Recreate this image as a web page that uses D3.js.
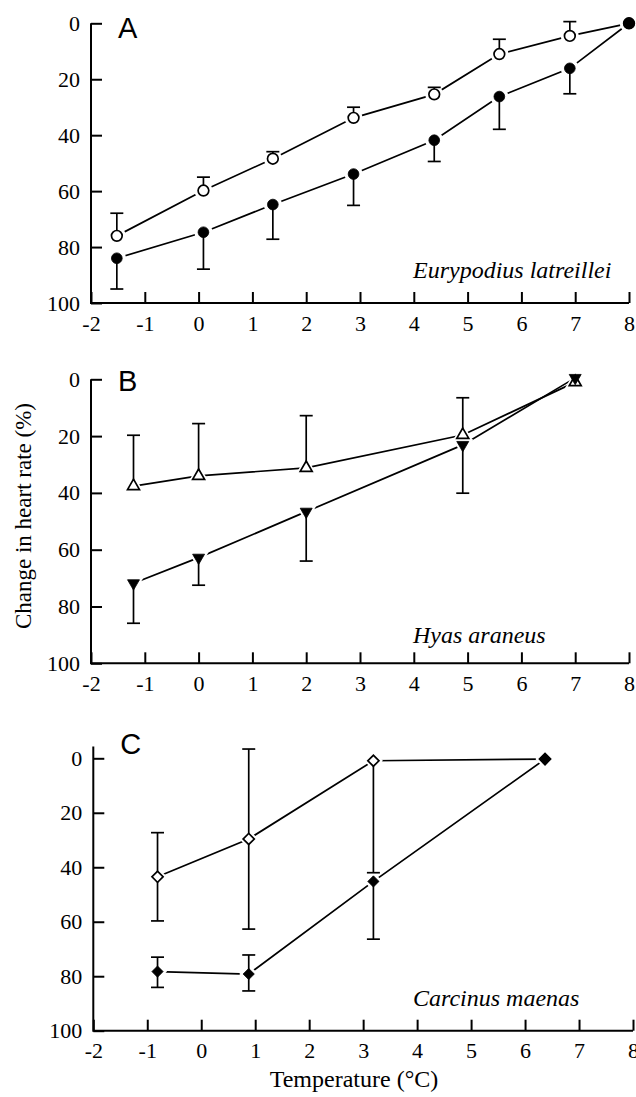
<!DOCTYPE html>
<html>
<head>
<meta charset="utf-8">
<script src="https://cdn.jsdelivr.net/npm/d3@7"></script>
<style>
  body { margin: 0; background: #fff; }
  svg { display: block; }
</style>
</head>
<body>
<script>
// ---- data (change in heart rate, %, axis reversed) ----
const xTicks = [-2, -1, 0, 1, 2, 3, 4, 5, 6, 7, 8];
const yTicks = [0, 20, 40, 60, 80, 100];

// A: Eurypodius latreillei
const tempA = [-1.52, 0.09, 1.38, 2.88, 4.38, 5.59, 6.9, 8];
const openA = [76, 59.8, 48.4, 33.8, 25.4, 11, 4.5, 0];
const openA_errLo = [67.9, 55, 45.9, 30, 22.9, 5.7, -0.6, null];
const openA_errHi = [null, null, null, null, null, null, null, null];
const filledA = [84, 74.7, 64.8, 53.9, 41.8, 26.2, 16.1, 0];
const filledA_errLo = [null, null, null, null, null, null, null, null];
const filledA_errHi = [95, 87.9, 77.2, 65.1, 49.4, 37.9, 25.2, null];

// B: Hyas araneus
const tempB = [-1.21, 0, 2, 4.91, 7];
const openB = [37.6, 34, 31.2, 19.6, 1];
const openB_errLo = [19.7, 15.6, 12.8, 6.5, null];
const openB_errHi = [null, null, null, null, null];
const filledB = [71.8, 62.8, 46.6, 23.1, -0.5];
const filledB_errLo = [null, null, null, null, null];
const filledB_errHi = [85.9, 72.5, 64, 40.1, null];

// C: Carcinus maenas
const tempC = [-0.81, 0.88, 3.19, 6.37];
const openC = [43.5, 29.6, 0.9, 0.3];
const openC_errLo = [27.3, -3.4, null, null];
const openC_errHi = [59.7, 62.7, 42, null];
const filledC = [78.3, 79.2, 45.2, 0.3];
const filledC_errLo = [73, 72.2, null, null];
const filledC_errHi = [84.1, 85.4, 66.4, null];

const zip = (xs, ys, lo, hi) => xs.map((x, i) => ({ x, y: ys[i], lo: lo[i], hi: hi[i] }));

// layout for each panel
const panels = [
  {
    letter: "A", species: "Eurypodius latreillei",
    left: 91, right: 629, top: 23.3, bottom: 303, yAxisTop: 0,
    letterY: 38, speciesY: 278,
    series: [
      { pts: zip(tempA, openA, openA_errLo, openA_errHi), shape: "circle", filled: false },
      { pts: zip(tempA, filledA, filledA_errLo, filledA_errHi), shape: "circle", filled: true },
    ],
  },
  {
    letter: "B", species: "Hyas araneus",
    left: 91, right: 629, top: 379.3, bottom: 663.3, yAxisTop: 0,
    letterY: 391, speciesY: 643,
    series: [
      { pts: zip(tempB, openB, openB_errLo, openB_errHi), shape: "triUp", filled: false },
      { pts: zip(tempB, filledB, filledB_errLo, filledB_errHi), shape: "triDown", filled: true },
    ],
  },
  {
    letter: "C", species: "Carcinus maenas",
    left: 93.3, right: 633, top: 758.3, bottom: 1030.7, yAxisTop: -4.3,
    letterY: 754, speciesY: 1006,
    series: [
      { pts: zip(tempC, openC, openC_errLo, openC_errHi), shape: "diamond", filled: false },
      { pts: zip(tempC, filledC, filledC_errLo, filledC_errHi), shape: "diamond", filled: true },
    ],
  },
];

const width = 636;
const height = 1097;
const serif = "'Liberation Serif', 'Times New Roman', serif";
const sans = "'Liberation Sans', Arial, sans-serif";

const svg = d3.select("body").append("svg")
  .attr("width", width)
  .attr("height", height);

function symbolPath(shape, scale) {
  const k = scale || 1;
  if (shape === "circle") return d3.symbol(d3.symbolCircle, 90 * k * k)();
  if (shape === "diamond") return d3.symbol(d3.symbolSquare, 62 * k * k)();
  return d3.symbol(d3.symbolTriangle, 62 * k * k)();
}
function symbolRotate(shape) {
  if (shape === "diamond") return 45;
  if (shape === "triDown") return 180;
  return 0;
}

function drawPanel(p) {
  const x = d3.scaleLinear().domain([-2, 8]).range([p.left, p.right]);
  const y = d3.scaleLinear().domain([0, 100]).range([p.top, p.bottom]);
  const g = svg.append("g");

  // axes, ticks pointing inward
  const yAxis = g.append("g")
    .attr("transform", `translate(${p.left},0)`)
    .call(d3.axisLeft(y).tickValues(yTicks).tickSize(-11).tickSizeOuter(0).tickPadding(11));
  const xAxis = g.append("g")
    .attr("transform", `translate(0,${p.bottom})`)
    .call(d3.axisBottom(x).tickValues(xTicks).tickSize(-11).tickSizeOuter(0).tickPadding(12)
      .tickFormat(d3.format("d")));

  [yAxis, xAxis].forEach((a) => {
    a.select(".domain").remove();
    a.selectAll(".tick line").attr("stroke", "#000").attr("stroke-width", 2);
    a.selectAll(".tick text")
      .attr("fill", "#000")
      .style("font-family", serif)
      .style("font-size", "22px");
  });
  xAxis.selectAll(".tick text").text((d) => (d < 0 ? "-" + Math.abs(d) : d));

  // axis lines drawn as one L-shape
  g.append("path")
    .attr("d", `M${p.left},${y(p.yAxisTop)}V${p.bottom}H${p.right}`)
    .attr("fill", "none")
    .attr("stroke", "#000")
    .attr("stroke-width", 2);

  // panel letter and species name
  g.append("text")
    .attr("x", p.left + 27)
    .attr("y", p.letterY)
    .style("font-family", sans)
    .style("font-size", "29px")
    .text(p.letter);

  g.append("text")
    .attr("x", 413)
    .attr("y", p.speciesY)
    .style("font-family", serif)
    .style("font-style", "italic")
    .style("font-size", "24px")
    .text(p.species);

  const line = d3.line().x((d) => x(d.x)).y((d) => y(d.y));

  // connecting lines
  p.series.forEach((s) => {
    g.append("path")
      .datum(s.pts)
      .attr("d", line)
      .attr("fill", "none")
      .attr("stroke", "#000")
      .attr("stroke-width", 1.7);
  });

  // white halos so lines stop short of the markers
  p.series.forEach((s) => {
    g.append("g").selectAll("path")
      .data(s.pts)
      .enter()
      .append("path")
      .attr("d", symbolPath(s.shape, 1.7))
      .attr("transform", (d) => `translate(${x(d.x)},${y(d.y)}) rotate(${symbolRotate(s.shape)})`)
      .attr("fill", "#fff");
  });

  // error bars
  p.series.forEach((s) => {
    const bars = s.pts.flatMap((d) => {
      const out = [];
      if (d.lo !== null) out.push({ x: d.x, y0: d.y, y1: d.lo });
      if (d.hi !== null) out.push({ x: d.x, y0: d.y, y1: d.hi });
      return out;
    });
    const eb = g.append("g").attr("stroke", "#000").attr("stroke-width", 1.7);
    eb.selectAll("line.v")
      .data(bars)
      .enter()
      .append("line")
      .attr("x1", (d) => x(d.x))
      .attr("x2", (d) => x(d.x))
      .attr("y1", (d) => y(d.y0))
      .attr("y2", (d) => y(d.y1));
    eb.selectAll("line.cap")
      .data(bars)
      .enter()
      .append("line")
      .attr("x1", (d) => x(d.x) - 6.5)
      .attr("x2", (d) => x(d.x) + 6.5)
      .attr("y1", (d) => y(d.y1))
      .attr("y2", (d) => y(d.y1));
  });

  // markers
  p.series.forEach((s) => {
    g.append("g").selectAll("path")
      .data(s.pts)
      .enter()
      .append("path")
      .attr("d", symbolPath(s.shape, 1))
      .attr("transform", (d) => `translate(${x(d.x)},${y(d.y)}) rotate(${symbolRotate(s.shape)})`)
      .attr("fill", s.filled ? "#000" : "#fff")
      .attr("stroke", "#000")
      .attr("stroke-width", s.filled ? 0.8 : 1.7);
  });
}

panels.forEach(drawPanel);

// shared axis titles
svg.append("text")
  .attr("transform", "translate(31,516) rotate(-90)")
  .attr("text-anchor", "middle")
  .style("font-family", serif)
  .style("font-size", "23px")
  .text("Change in heart rate (%)");

svg.append("text")
  .attr("x", 354)
  .attr("y", 1087)
  .attr("text-anchor", "middle")
  .style("font-family", serif)
  .style("font-size", "24px")
  .text("Temperature (°C)");
</script>
</body>
</html>
